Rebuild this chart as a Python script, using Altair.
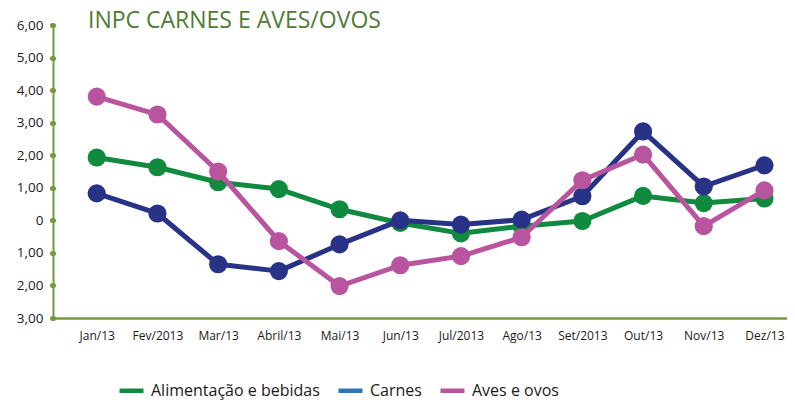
import altair as alt
import pandas as pd

meses = ["Jan/13", "Fev/2013", "Mar/13", "Abril/13", "Mai/13", "Jun/13",
         "Jul/2013", "Ago/13", "Set/2013", "Out/13", "Nov/13", "Dez/13"]
alimentacao = [1.93, 1.63, 1.17, 0.96, 0.34, -0.08, -0.40, -0.18, -0.02, 0.75, 0.53, 0.67]
carnes = [0.83, 0.21, -1.35, -1.56, -0.74, 0.00, -0.13, 0.02, 0.74, 2.73, 1.04, 1.69]
aves = [3.80, 3.25, 1.50, -0.64, -2.02, -1.38, -1.10, -0.52, 1.23, 2.02, -0.18, 0.92]

series = ["Alimentação e bebidas", "Carnes", "Aves e ovos"]
valores = [alimentacao, carnes, aves]
line_colors = ["#108a3e", "#283287", "#b8559e"]
legend_colors = ["#108a3e", "#2e75b6", "#b8559e"]
axis_color = "#76983f"
title_color = "#4f7b35"
FONT = "Open Sans"

rows = []
for s, vals in zip(series, valores):
    for m, v in zip(meses, vals):
        rows.append({"mes": m, "serie": s, "valor": v})
df = pd.DataFrame(rows)

x_enc = alt.X("mes:N", sort=meses,
              scale=alt.Scale(type="point", padding=0.546, align=0.66),
              axis=alt.Axis(title=None, labelAngle=0, ticks=False, labelFontSize=12,
                            labelPadding=12, labelColor="#1a1a1a", labelFont=FONT,
                            domainColor=axis_color, domainWidth=2.5, grid=False))
y_enc = alt.Y("valor:Q",
              scale=alt.Scale(domain=[-3, 6], nice=False, zero=False),
              axis=alt.Axis(title=None, values=list(range(-3, 7)), grid=False,
                            labelExpr="datum.value == 0 ? '0' : replace(format(abs(datum.value), '.2f'), '.', ',')",
                            labelFontSize=13.5, labelColor="#1a1a1a", labelFont=FONT,
                            labelPadding=9,
                            domainColor=axis_color, domainWidth=2,
                            tickColor=axis_color, tickWidth=5, tickSize=1, tickCap="round"))

# invisible layer that only carries the legend
legend_layer = alt.Chart(df).mark_line(strokeOpacity=0, strokeWidth=5).encode(
    x=x_enc, y=y_enc,
    color=alt.Color("serie:N", sort=series,
                    scale=alt.Scale(domain=series, range=legend_colors),
                    legend=alt.Legend(title=None, orient="none", direction="horizontal",
                                      legendX=64, legendY=351,
                                      symbolType="stroke", symbolStrokeWidth=4.5,
                                      symbolSize=576, symbolOpacity=1,
                                      labelFontSize=16, labelLimit=400,
                                      labelFont=FONT, labelColor="#1a1a1a",
                                      labelOffset=5, columnPadding=9)),
)

layers = [legend_layer]
for i, s in enumerate(series):
    base = alt.Chart(df).transform_filter(alt.datum.serie == s)
    line = base.mark_line(strokeWidth=5, strokeJoin="round", color=line_colors[i]).encode(
        x=x_enc, y=y_enc,
    )
    pts = base.mark_circle(size=330, opacity=1, color=line_colors[i]).encode(
        x=x_enc, y=y_enc,
    )
    layers += [line, pts]

chart = alt.layer(*layers).properties(
    width=734, height=293,
    title=alt.Title("INPC CARNES E AVES/OVOS", anchor="start", frame="group", dx=35, dy=19,
                    fontSize=23, font=FONT, fontWeight="normal", color=title_color),
    autosize=alt.AutoSizeParams(type="none"),
    padding={"left": 45, "top": 17, "right": 0, "bottom": 82},
).configure_view(stroke=None)

chart.save("out.html", embed_options={"renderer": "svg", "actions": False})
